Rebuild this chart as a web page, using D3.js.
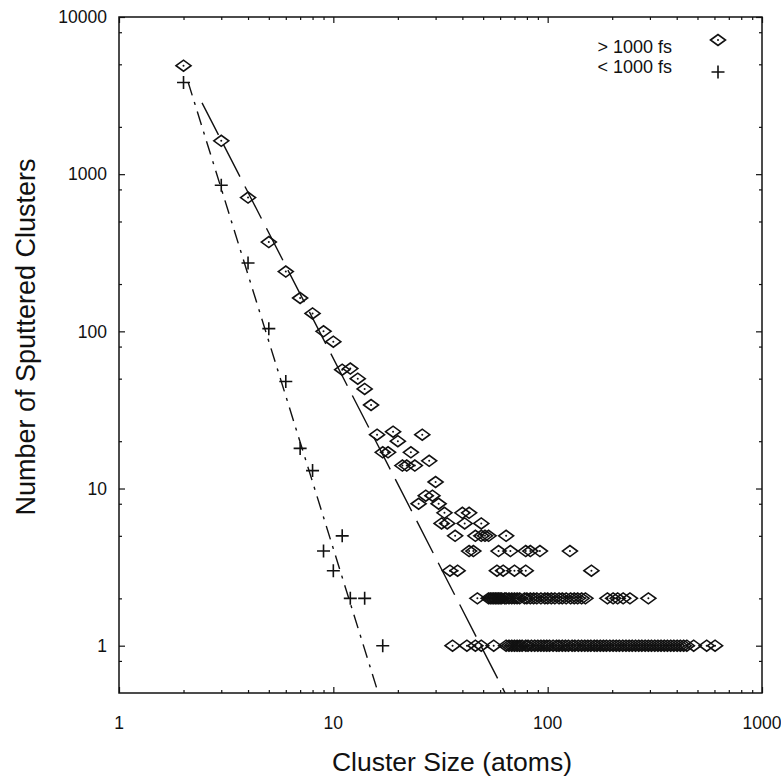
<!DOCTYPE html>
<html>
<head>
<meta charset='utf-8'>
<style>
body { margin: 0; background: #fff; }
svg { display: block; }
text { font-family: 'Liberation Sans', Arial, sans-serif; fill: #111; }
.frame { fill: none; stroke: #111; stroke-width: 1.5px; }
.tick line { stroke: #111; stroke-width: 1.2px; }
.fit { fill: none; stroke: #111; stroke-width: 1.4px; }
.diamond { fill: none; stroke: #111; stroke-width: 1.6px; }
.plus { stroke: #111; stroke-width: 1.6px; }
</style>
</head>
<body>
<svg width="781" height="777"></svg>
<script src="https://d3js.org/d3.v7.min.js"></script>
<script>

// > 1000 fs : one point per size for the small clusters
var longSize  = [2, 3, 4, 5, 6, 7, 8, 9, 10, 11, 12, 13, 14, 15, 16, 17, 18, 19, 20, 21, 22, 23, 24, 25, 26, 27, 28, 29, 30, 31];
var longCount = [4900, 1630, 710, 370, 240, 163, 130, 100, 86, 57, 58, 50, 43, 34, 22, 17, 17, 23, 20, 14, 14, 17, 14, 8, 22, 9, 15, 9, 11, 8];

// > 1000 fs : tail, sizes read row by row (count in the name)
var tail7 = [33, 40, 43];
var tail6 = [32, 34, 41, 49];
var tail5 = [37, 46, 49, 51, 53, 64];
var tail4 = [43, 45, 59, 67, 79, 83, 92, 127];
var tail3 = [35, 38, 58, 62, 70, 79, 160];
var tail2 = [47, 53, 54, 55, 56, 57, 58, 59, 60, 61, 63, 64, 66, 68, 70, 72, 74, 78, 80, 83, 86, 89,
             93, 97, 100, 104, 108, 113, 117, 122, 128, 133, 138, 144, 150, 190, 202, 212, 225, 242, 295];
var tail1 = [36, 42, 46, 49, 56, 64, 66, 68, 70, 72, 74, 76, 79, 81, 84, 87, 90, 93, 96, 99, 102, 106,
             110, 113, 117, 121, 125, 130, 134, 139, 144, 149, 154, 159, 165, 170, 176, 182, 188, 195,
             202, 209, 216, 224, 232, 240, 248, 257, 266, 275, 285, 295, 305, 316, 327, 338, 350, 362,
             375, 388, 402, 416, 431, 446, 480, 552, 604];

// < 1000 fs
var shortSize  = [2, 3, 4, 5, 6, 7, 8, 9, 10, 11, 12, 14, 17];
var shortCount = [3830, 850, 272, 104, 48, 18, 13, 4, 3, 5, 2, 2, 1];

// fitted power laws, end points as drawn
var longFitSize   = [2.44, 63.3];
var longFitCount  = [2844, 0.5];
var shortFitSize  = [2.1, 16.2];
var shortFitCount = [3860, 0.5];

var xTicks = [1, 10, 100, 1000];
var yTicks = [1, 10, 100, 1000, 10000];

var svg = d3.select('svg'),
    margin = {left: 119, right: 19, top: 17, bottom: 84},
    width = 781 - margin.left - margin.right,
    height = 777 - margin.top - margin.bottom;

var x = d3.scaleLog().domain([1, 1000]).range([0, width]);
var y = d3.scaleLog().domain([0.5, 10000]).range([height, 0]);

var g = svg.append('g').attr('transform', 'translate(' + margin.left + ',' + margin.top + ')');

svg.append('defs').append('clipPath').attr('id', 'clip')
  .append('rect').attr('width', width).attr('height', height);

// minor ticks: 2..9 on x, 2,5,8 on y
var xMinor = [], yMinor = [];
[1, 10, 100].forEach(function(d) { for (var k = 2; k <= 9; k++) xMinor.push(d * k); });
[0.1, 1, 10, 100, 1000].forEach(function(d) {
  [2, 5, 8].forEach(function(k) { var v = d * k; if (v > 0.5 && v < 10000) yMinor.push(v); });
});

function tickAxis(axis, ticks, size) {
  return axis.tickValues(ticks).tickSize(size).tickFormat('');
}

// axes (ticks pointing inwards on all four sides)
g.append('g').attr('class', 'tick').attr('transform', 'translate(0,' + height + ')')
  .call(tickAxis(d3.axisTop(x), xTicks, 6));
g.append('g').attr('class', 'tick').attr('transform', 'translate(0,' + height + ')')
  .call(tickAxis(d3.axisTop(x), xMinor, 3));
g.append('g').attr('class', 'tick')
  .call(tickAxis(d3.axisBottom(x), xTicks, 6));
g.append('g').attr('class', 'tick')
  .call(tickAxis(d3.axisBottom(x), xMinor, 3));
g.append('g').attr('class', 'tick')
  .call(tickAxis(d3.axisRight(y), yTicks, 6));
g.append('g').attr('class', 'tick')
  .call(tickAxis(d3.axisRight(y), yMinor, 3));
g.append('g').attr('class', 'tick').attr('transform', 'translate(' + width + ',0)')
  .call(tickAxis(d3.axisLeft(y), yTicks, 6));
g.append('g').attr('class', 'tick').attr('transform', 'translate(' + width + ',0)')
  .call(tickAxis(d3.axisLeft(y), yMinor, 3));
g.selectAll('.domain').remove();

g.append('rect').attr('class', 'frame').attr('width', width).attr('height', height);

// tick labels
g.selectAll('.xlab').data(xTicks).enter().append('text')
  .attr('x', d => x(d)).attr('y', height + 36)
  .attr('text-anchor', 'middle').style('font-size', '17.5px')
  .text(d => d);
g.selectAll('.ylab').data(yTicks).enter().append('text')
  .attr('x', -12).attr('y', d => y(d)).attr('dy', '0.36em')
  .attr('text-anchor', 'end').style('font-size', '17.5px')
  .text(d => d);

// axis titles
svg.append('text')
  .attr('x', 452).attr('y', 771)
  .attr('text-anchor', 'middle').style('font-size', '26.5px')
  .text('Cluster Size (atoms)');
svg.append('text')
  .attr('transform', 'translate(35,337) rotate(-90)')
  .attr('text-anchor', 'middle').style('font-size', '27px')
  .text('Number of Sputtered Clusters');

var plot = g.append('g').attr('clip-path', 'url(#clip)');

var line = d3.line().x(d => x(d[0])).y(d => y(d[1]));

plot.append('path').attr('class', 'fit')
  .attr('d', line(d3.zip(longFitSize, longFitCount)))
  .attr('stroke-dasharray', '36,11');
plot.append('path').attr('class', 'fit')
  .attr('d', line(d3.zip(shortFitSize, shortFitCount)))
  .attr('stroke-dasharray', '14,7,3,7');

// build the > 1000 fs point list
var longPts = d3.zip(longSize, longCount);
[[tail7, 7], [tail6, 6], [tail5, 5], [tail4, 4], [tail3, 3], [tail2, 2], [tail1, 1]].forEach(function(r) {
  r[0].forEach(function(s) { longPts.push([s, r[1]]); });
});
var shortPts = d3.zip(shortSize, shortCount);

var diamond = 'M-7.5,0L0,-5.5L7.5,0L0,5.5Z';
function drawDiamond(sel) {
  sel.append('path').attr('class', 'diamond').attr('d', diamond);
  sel.append('circle').attr('r', 1).attr('fill', '#111');
}
function drawPlus(sel) {
  sel.append('path').attr('class', 'plus').attr('d', 'M-6.5,0H6.5M0,-6.5V6.5');
}

plot.selectAll('.dpt').data(longPts).enter().append('g')
  .attr('transform', d => 'translate(' + x(d[0]) + ',' + y(d[1]) + ')')
  .call(drawDiamond);
plot.selectAll('.ppt').data(shortPts).enter().append('g')
  .attr('transform', d => 'translate(' + x(d[0]) + ',' + y(d[1]) + ')')
  .call(drawPlus);

// legend
var legend = [{label: '> 1000 fs', mark: drawDiamond}, {label: '< 1000 fs', mark: drawPlus}];
var lg = svg.append('g');
lg.append('text').attr('x', 672).attr('y', 53).attr('text-anchor', 'end')
  .style('font-size', '18px').text(legend[0].label);
lg.append('text').attr('x', 672).attr('y', 73).attr('text-anchor', 'end')
  .style('font-size', '18px').text(legend[1].label);
lg.append('g').attr('transform', 'translate(718,40)').call(legend[0].mark);
lg.append('g').attr('transform', 'translate(718,72)').call(legend[1].mark);

</script>
</body>
</html>
